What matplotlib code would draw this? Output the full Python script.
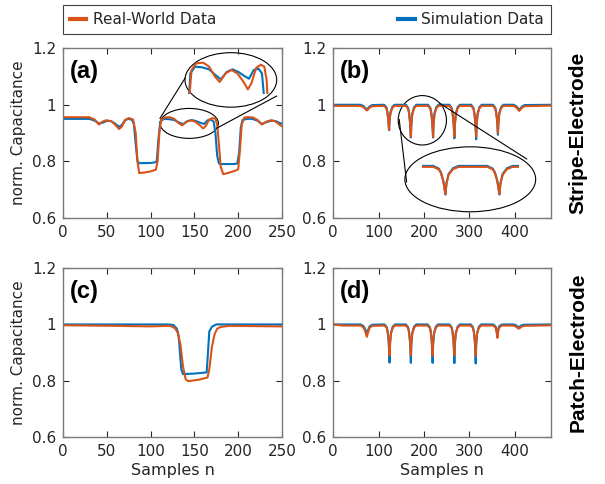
import matplotlib.pyplot as plt
from matplotlib.patches import Ellipse
from matplotlib.lines import Line2D
from matplotlib.ticker import FormatStrFormatter

W, H = 605, 484
real_c = '#D95319'
sim_c = '#0072BD'

# ---- (a) stripe electrode, 250 samples ----
a_sim_x = [0, 30, 36, 41, 46, 50, 55, 60, 64, 67, 71, 75, 79, 81, 83, 85, 87, 100, 105, 107, 109, 111, 115,
           121, 127, 132, 137, 142, 147, 152, 157, 161, 165, 169, 172, 174, 176, 178, 180, 195, 199, 201, 203, 205, 210,
           216, 222, 227, 232, 238, 243, 247, 250]
a_sim_y = [0.950, 0.950, 0.944, 0.934, 0.937, 0.943, 0.942, 0.932, 0.922, 0.928, 0.946, 0.950, 0.946, 0.930, 0.860,
           0.800, 0.793, 0.794, 0.796, 0.800, 0.880, 0.940, 0.950,
           0.949, 0.946, 0.938, 0.931, 0.942, 0.946, 0.942, 0.936, 0.932, 0.945, 0.947, 0.940, 0.900, 0.820, 0.792,
           0.790, 0.790, 0.792, 0.830, 0.920, 0.946, 0.950,
           0.950, 0.944, 0.932, 0.938, 0.944, 0.942, 0.936, 0.933]
a_real_x = [0, 30, 36, 41, 45, 49, 55, 60, 64, 67, 71, 75, 80, 83, 85, 87, 93, 100, 106, 108, 110, 112, 116,
            122, 127, 132, 136, 141, 146, 151, 156, 160, 163, 167, 171, 174, 176, 178, 180, 183, 190, 198, 200, 202,
            204, 207, 212,
            217, 222, 227, 232, 237, 242, 247, 250]
a_real_y = [0.956, 0.956, 0.948, 0.930, 0.940, 0.945, 0.942, 0.928, 0.914, 0.922, 0.946, 0.953, 0.948, 0.900, 0.800,
            0.758, 0.760, 0.764, 0.770, 0.800, 0.900, 0.945, 0.955,
            0.956, 0.950, 0.935, 0.927, 0.940, 0.945, 0.940, 0.928, 0.916, 0.925, 0.948, 0.953, 0.950, 0.930, 0.860,
            0.780, 0.754, 0.760, 0.768, 0.772, 0.840, 0.930, 0.955, 0.956,
            0.955, 0.946, 0.930, 0.940, 0.945, 0.942, 0.930, 0.924]

# ---- (b) stripe electrode, 480 samples ----
b_x = [0, 60, 66, 70, 72, 74, 76, 80, 86,
       112, 117, 119, 121, 122, 123, 124, 126, 130, 135,
       160, 165, 167, 169, 170, 171, 172, 174, 178, 183,
       209, 214, 216, 218, 219, 220, 221, 223, 227, 232,
       256, 261, 263, 265, 266, 267, 268, 270, 274, 279,
       304, 309, 311, 313, 314, 315, 316, 318, 322, 327,
       352, 357, 359, 361, 362, 363, 364, 366, 370, 375,
       398, 404, 408, 410, 412, 416, 422, 480]
b_real_y = [0.996, 0.996, 0.992, 0.986, 0.982, 0.980, 0.982, 0.990, 0.995,
            0.996, 0.988, 0.975, 0.950, 0.930, 0.911, 0.945, 0.970, 0.988, 0.996,
            0.996, 0.986, 0.970, 0.940, 0.915, 0.886, 0.930, 0.965, 0.987, 0.996,
            0.996, 0.986, 0.970, 0.940, 0.915, 0.886, 0.930, 0.965, 0.987, 0.996,
            0.996, 0.986, 0.970, 0.940, 0.915, 0.887, 0.930, 0.965, 0.987, 0.996,
            0.996, 0.986, 0.970, 0.940, 0.915, 0.887, 0.930, 0.965, 0.987, 0.996,
            0.996, 0.987, 0.973, 0.947, 0.925, 0.900, 0.938, 0.968, 0.988, 0.996,
            0.996, 0.990, 0.982, 0.978, 0.982, 0.990, 0.995, 0.997]
b_sim_y = [1.000, 1.000, 0.996, 0.990, 0.986, 0.983, 0.986, 0.994, 0.999,
           1.000, 0.991, 0.978, 0.952, 0.930, 0.910, 0.945, 0.973, 0.992, 1.000,
           1.000, 0.989, 0.973, 0.942, 0.915, 0.884, 0.930, 0.968, 0.991, 1.000,
           1.000, 0.989, 0.973, 0.942, 0.915, 0.884, 0.930, 0.968, 0.991, 1.000,
           1.000, 0.989, 0.972, 0.940, 0.912, 0.881, 0.928, 0.967, 0.991, 1.000,
           1.000, 0.989, 0.971, 0.938, 0.910, 0.878, 0.926, 0.967, 0.991, 1.000,
           1.000, 0.990, 0.975, 0.946, 0.922, 0.894, 0.936, 0.970, 0.992, 1.000,
           1.000, 0.994, 0.986, 0.982, 0.986, 0.994, 0.999, 1.000]

# ---- (c) patch electrode, 250 samples ----
c_sim_x = [0, 120, 126, 130, 132, 133.5, 135, 137, 150, 164, 165.5, 167, 170, 175, 250]
c_sim_y = [1.000, 1.000, 0.998, 0.985, 0.960, 0.900, 0.840, 0.823, 0.825, 0.829, 0.900, 0.975, 0.992, 1.000, 1.000]
c_real_x = [0, 60, 100, 120, 124, 128, 131, 134, 137, 140, 143, 155, 165, 167, 170, 173, 176, 180, 190, 250]
c_real_y = [0.997, 0.995, 0.993, 0.995, 0.993, 0.986, 0.970, 0.930, 0.850, 0.805, 0.798, 0.803, 0.811, 0.840,
            0.920, 0.965, 0.985, 0.991, 0.995, 0.993]

# ---- (d) patch electrode, 480 samples ----
d_x = [0, 20, 60, 66, 70, 72, 74, 76, 80, 86,
       113, 118, 120, 122, 123, 124, 125, 127, 131, 136,
       160, 165, 167, 169, 170, 171, 172, 174, 178, 183,
       208, 213, 215, 217, 218, 219, 220, 222, 226, 231,
       256, 261, 263, 265, 266, 267, 268, 270, 274, 279,
       303, 308, 310, 312, 313, 314, 315, 317, 321, 326,
       353, 358, 360, 362, 363, 365, 369, 374,
       397, 403, 407, 409, 411, 415, 421, 480]
d_real_y = [1.000, 0.996, 0.996, 0.990, 0.978, 0.965, 0.956, 0.968, 0.988, 0.995,
            0.996, 0.987, 0.972, 0.945, 0.920, 0.889, 0.935, 0.967, 0.988, 0.996,
            0.996, 0.987, 0.972, 0.945, 0.920, 0.890, 0.935, 0.967, 0.988, 0.996,
            0.996, 0.987, 0.972, 0.945, 0.920, 0.888, 0.935, 0.967, 0.988, 0.996,
            0.996, 0.987, 0.972, 0.945, 0.920, 0.890, 0.935, 0.967, 0.988, 0.996,
            0.996, 0.987, 0.972, 0.945, 0.920, 0.888, 0.935, 0.967, 0.988, 0.996,
            0.996, 0.988, 0.972, 0.952, 0.970, 0.986, 0.994, 0.996,
            0.996, 0.992, 0.987, 0.985, 0.987, 0.992, 0.995, 0.997]
d_sim_y = [1.000, 1.000, 1.000, 0.995, 0.985, 0.975, 0.968, 0.977, 0.993, 0.999,
           1.000, 0.990, 0.973, 0.940, 0.905, 0.864, 0.925, 0.968, 0.992, 1.000,
           1.000, 0.990, 0.973, 0.940, 0.905, 0.863, 0.925, 0.968, 0.992, 1.000,
           1.000, 0.990, 0.973, 0.940, 0.905, 0.863, 0.925, 0.968, 0.992, 1.000,
           1.000, 0.990, 0.973, 0.940, 0.905, 0.862, 0.925, 0.968, 0.992, 1.000,
           1.000, 0.990, 0.973, 0.940, 0.905, 0.861, 0.925, 0.968, 0.992, 1.000,
           1.000, 0.992, 0.978, 0.962, 0.977, 0.991, 0.998, 1.000,
           1.000, 0.997, 0.992, 0.990, 0.992, 0.997, 0.999, 1.000]


def px_box(x0, y0, x1, y1):
    return [x0 / W, 1 - y1 / H, (x1 - x0) / W, (y1 - y0) / H]


def setup(ax, xmax, xticks, letter):
    ax.set_xlim(0, xmax)
    ax.set_ylim(0.6, 1.2)
    ax.set_xticks(xticks)
    ax.set_yticks([0.6, 0.8, 1.0, 1.2])
    ax.yaxis.set_major_formatter(FormatStrFormatter('%g'))
    ax.tick_params(direction='in', top=True, right=True, length=4, width=0.8,
                   labelsize=11, colors='#262626', pad=5)
    for s in ax.spines.values():
        s.set_color('#7a7a7a')
        s.set_linewidth(1.0)
    ax.text(0.032, 0.865, letter, transform=ax.transAxes, fontsize=17,
            fontweight='bold', family='Liberation Sans', va='center')


def draw(ax, xs, ys, xr, yr):
    ax.plot(xs, ys, color=sim_c, lw=1.5)
    ax.plot(xr, yr, color=real_c, lw=1.5)


fig = plt.figure(figsize=(W / 100, H / 100), dpi=100)

ax_a = fig.add_axes(px_box(63, 48.3, 282, 217.7))
ax_b = fig.add_axes(px_box(333.3, 48.3, 551, 217.7))
ax_c = fig.add_axes(px_box(63, 268.3, 282, 436.7))
ax_d = fig.add_axes(px_box(333.3, 268.3, 551, 436.7))

draw(ax_a, a_sim_x, a_sim_y, a_real_x, a_real_y)
draw(ax_b, b_x, b_sim_y, b_x, b_real_y)
draw(ax_c, c_sim_x, c_sim_y, c_real_x, c_real_y)
draw(ax_d, d_x, d_sim_y, d_x, d_real_y)

setup(ax_a, 250, [0, 50, 100, 150, 200, 250], '(a)')
setup(ax_b, 480, [0, 100, 200, 300, 400], '(b)')
setup(ax_c, 250, [0, 50, 100, 150, 200, 250], '(c)')
setup(ax_d, 480, [0, 100, 200, 300, 400], '(d)')

for ax in (ax_a, ax_c):
    ax.set_ylabel('norm. Capacitance', fontsize=11, color='#262626', labelpad=4)
for ax in (ax_c, ax_d):
    ax.set_xlabel('Samples n', fontsize=11.5, color='#262626', labelpad=3)

# zoom ellipses (a)
ell_kw = dict(fill=False, ec='k', lw=0.8, clip_on=False)
ax_a.add_patch(Ellipse((144.1, 0.934), 66.6, 0.106, **ell_kw))
ax_a.add_patch(Ellipse((191.6, 1.088), 104.7, 0.193, **ell_kw))
ax_a.plot([110.7, 139.3], [0.952, 1.094], color='k', lw=0.8)
ax_a.plot([175.5, 243.9], [0.917, 1.031], color='k', lw=0.8)
ins_a = fig.add_axes(px_box(188, 56, 269, 94))
draw(ins_a, a_sim_x, a_sim_y, a_real_x, a_real_y)
ins_a.set_xlim(109, 178)
ins_a.set_ylim(0.909, 0.966)
ins_a.axis('off')

# zoom ellipses (b)
ax_b.add_patch(Ellipse((196.3, 0.945), 106.4, 0.175, **ell_kw))
ax_b.add_patch(Ellipse((302, 0.736), 288.4, 0.230, **ell_kw))
ax_b.plot([145.3, 161.6], [0.948, 0.727], color='k', lw=0.8)
ax_b.plot([234.9, 426.4], [1.005, 0.808], color='k', lw=0.8)
ins_b = fig.add_axes(px_box(421.7, 158, 519, 200))
draw(ins_b, b_x, b_sim_y, b_x, b_real_y)
ins_b.set_xlim(149.5, 237.8)
ins_b.set_ylim(0.862, 1.032)
ins_b.axis('off')

fig.text(578 / W, 1 - 133 / H, 'Stripe-Electrode', rotation=90, ha='center', va='center',
         fontsize=15, fontweight='bold', family='Liberation Sans')
fig.text(578 / W, 1 - 352.5 / H, 'Patch-Electrode', rotation=90, ha='center', va='center',
         fontsize=15, fontweight='bold', family='Liberation Sans')

handles = [Line2D([], [], color=real_c, lw=3), Line2D([], [], color=sim_c, lw=3)]
leg = fig.legend(handles, ['Real-World Data', 'Simulation Data'], loc='lower left',
                 bbox_to_anchor=(63 / W, 1 - 34 / H, 488 / W, 32 / H), mode='expand', ncol=2,
                 fontsize=11, fancybox=False, framealpha=1, edgecolor='#404040',
                 handlelength=1.05, handletextpad=0.45, borderpad=0.45, borderaxespad=0)
leg.get_frame().set_linewidth(0.8)
for t in leg.get_texts():
    t.set_color('#262626')

fig.savefig('out.png', dpi=100)
